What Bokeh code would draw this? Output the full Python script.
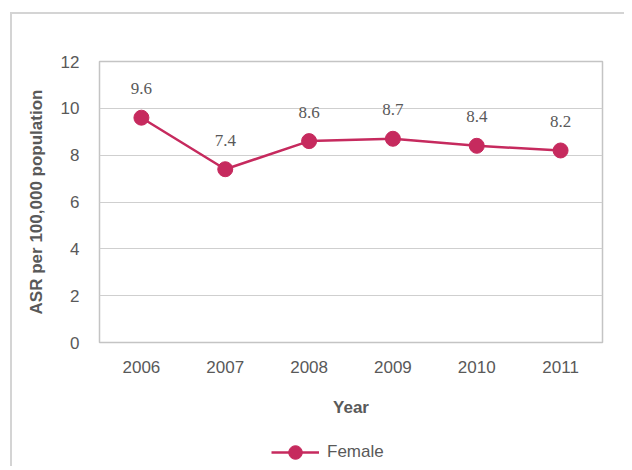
from bokeh.plotting import figure
from bokeh.layouts import column
from bokeh.models import ColumnDataSource, FactorRange, Range1d, Legend, LegendItem, FixedTicker, LabelSet
from bokeh.embed import file_html
from bokeh.resources import INLINE

years = ["2006", "2007", "2008", "2009", "2010", "2011"]
female = [9.6, 7.4, 8.6, 8.7, 8.4, 8.2]
labels = ["9.6", "7.4", "8.6", "8.7", "8.4", "8.2"]
y_ticks = [0, 2, 4, 6, 8, 10, 12]

FONT = "Liberation Sans"
TXT = "#595959"
RED = "#c62a5e"

src = ColumnDataSource(dict(x=years, y=female, t=labels))

p = figure(x_range=FactorRange(*years), y_range=Range1d(0, 12),
           width=612, height=420, output_backend="svg", toolbar_location=None,
           min_border_left=87, min_border_right=22, min_border_top=47, min_border_bottom=92)

p.outline_line_color = "#c4c4c4"
p.outline_line_width = 1.5
p.xgrid.grid_line_color = None
p.ygrid.grid_line_color = "#cfcfcf"
p.ygrid.grid_line_width = 1.2

p.yaxis.ticker = FixedTicker(ticks=y_ticks)
for ax in (p.xaxis[0], p.yaxis[0]):
    ax.axis_line_color = None
    ax.major_tick_line_color = None
    ax.minor_tick_line_color = None
    ax.major_label_text_font = FONT
    ax.major_label_text_font_size = "17px"
    ax.major_label_text_color = TXT
    ax.axis_label_text_font = FONT
    ax.axis_label_text_font_size = "17px"
    ax.axis_label_text_font_style = "bold"
    ax.axis_label_text_color = TXT
p.yaxis.major_label_standoff = 14
p.xaxis.major_label_standoff = 12
p.yaxis.axis_label = "ASR per 100,000 population"
p.xaxis.axis_label = "Year"
p.yaxis.axis_label_standoff = 12
p.xaxis.axis_label_standoff = 22

p.line("x", "y", source=src, line_color=RED, line_width=2.5)
p.scatter("x", "y", source=src, size=15, fill_color=RED, line_color=RED)

lbl = LabelSet(x="x", y="y", text="t", source=src, y_offset=29, text_align="center",
               text_baseline="middle", text_font=FONT, text_font_size="17px", text_color=TXT)
p.add_layout(lbl)

# legend strip below the chart (same series, drawn outside its visible range)
p2 = figure(x_range=FactorRange(*years), y_range=Range1d(-10, -9),
            width=612, height=32, output_backend="svg", toolbar_location=None,
            min_border=0, outline_line_color=None)
p2.axis.visible = False
p2.grid.visible = False
lr = p2.line("x", "y", source=src, line_color=RED, line_width=2.5)
sr = p2.scatter("x", "y", source=src, size=15, fill_color=RED, line_color=RED)
legend = Legend(items=[LegendItem(label="Female", renderers=[lr, sr])],
                location=(172, -3), border_line_color=None, background_fill_alpha=0,
                padding=0, margin=0, glyph_width=48, glyph_height=34, label_standoff=8,
                label_text_font=FONT, label_text_font_size="17px", label_text_color=TXT)
p2.add_layout(legend, "center")

layout = column(p, p2, spacing=0)
layout.styles = {"border-top": "2px solid #d4d4d4", "border-left": "2px solid #d4d4d4",
                 "margin-top": "12px", "margin-left": "10px"}

open("out.html", "w").write(file_html(layout, INLINE))
